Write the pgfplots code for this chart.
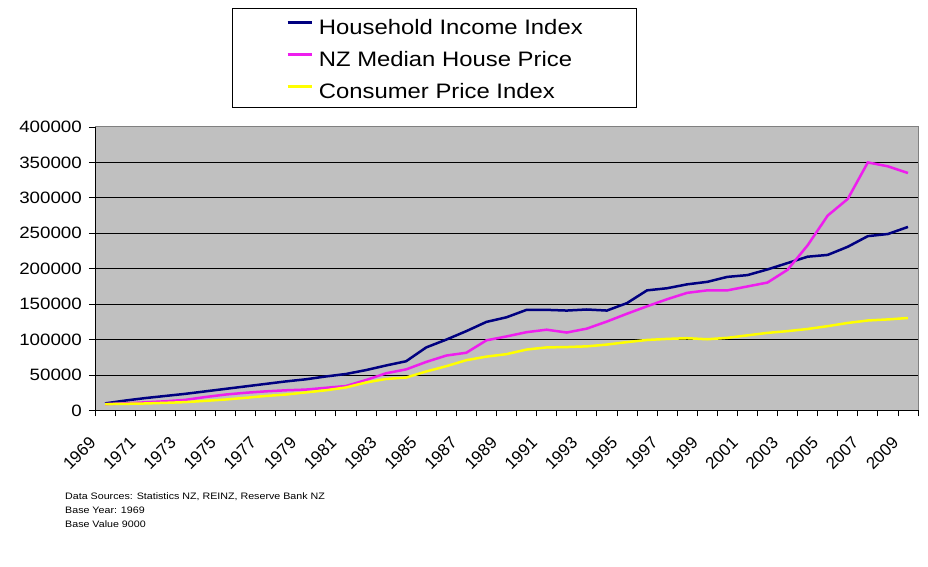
\documentclass[border=0pt]{standalone}
\usepackage{fontspec}
\setmainfont{Liberation Sans}[FakeStretch=1.14]
\newfontfamily\plainfont{Liberation Sans}
\usepackage{graphicx}
\usepackage{pgfplots}
\pgfplotsset{compat=1.18}
\usepackage{pgfplotstable}
\newcommand\yl[1]{\rotatebox{45}{#1}}
\definecolor{hhblue}{RGB}{0,0,128}
\definecolor{hpink}{RGB}{238,30,238}
\definecolor{cpiyel}{RGB}{255,255,0}
\definecolor{bgGrey}{RGB}{192,192,192}
\pgfplotstableread{
i hh house cpi
0 10000 9000 9000
1 14000 10000 9400
2 17500 11500 9900
3 20500 13000 10800
4 23500 15000 11800
5 27000 19000 13600
6 30500 22500 15500
7 34000 25000 17900
8 37500 27000 20500
9 41000 28500 22500
10 44000 29500 25500
11 48000 32000 28500
12 51500 34500 32500
13 57000 43000 39500
14 63500 52500 44500
15 69500 58000 46500
16 89000 68500 55000
17 100000 77500 62500
18 112000 81500 71000
19 125000 99000 76000
20 131500 104500 79500
21 142000 110500 86000
22 142000 114000 89000
23 141000 110000 89500
24 142500 115500 90500
25 141000 125500 93000
26 151500 136500 96500
27 169500 147000 99500
28 172500 157000 101000
29 178000 166000 102000
30 181500 169500 100500
31 188500 169500 102500
32 191000 175000 106000
33 199000 180500 109500
34 208000 198500 112000
35 217000 233000 115000
36 219500 275000 119000
37 231000 298500 123500
38 246000 350000 127000
39 249000 344500 128500
40 259000 335000 130500
}\datatable
\begin{document}
\begin{tikzpicture}[x=1bp,y=1bp]
\begin{axis}[
  at={(95bp,156.5bp)}, anchor=south west,
  scale only axis, width=823bp, height=283.5bp,
  xmin=-0.5, xmax=40.5, ymin=0, ymax=400000,
  scaled y ticks=false,
  axis x line*=bottom, axis y line*=left,
  axis line style={-, black, line width=1bp},
  axis background/.style={fill=bgGrey, draw=gray, line width=1bp},
  tick align=outside, major tick length=6bp,
  tick style={black, line width=0.8bp},
  xtick={-0.5,0.5,...,40.5}, xticklabels={},
  extra x ticks={0,2,...,40},
  extra x tick labels={\yl{1969},\yl{1971},\yl{1973},\yl{1975},\yl{1977},\yl{1979},\yl{1981},\yl{1983},\yl{1985},\yl{1987},\yl{1989},\yl{1991},\yl{1993},\yl{1995},\yl{1997},\yl{1999},\yl{2001},\yl{2003},\yl{2005},\yl{2007},\yl{2009}},
  extra x tick style={major tick length=0pt},
  xticklabel style={font=\plainfont\fontsize{17}{20}\selectfont, anchor=north east, inner sep=0pt, xshift=-8bp, yshift=-25bp},
  ytick={0,50000,...,350000},
  yticklabels={0,50000,100000,150000,200000,250000,300000,350000},
  extra y ticks={400000}, extra y tick labels={400000},
  extra y tick style={grid=none},
  yticklabel style={font=\fontsize{16.5}{20}\selectfont, inner sep=0pt, xshift=-7bp},
  ymajorgrids, grid style={black, line width=0.8bp},
  legend style={at={(rel axis cs:0.16646,1.41975)}, anchor=north west,
    draw=black, line width=0.8bp, fill=white,
    inner xsep=54bp, inner ysep=4bp, row sep=5bp, column sep=6bp,
    font=\fontsize{21}{25}\selectfont,
    nodes={inner sep=0pt, text height=22bp, text depth=5bp}},
  legend cell align=left,
  legend image code/.code={\draw[#1, line width=2.5bp] (0bp,3.5bp) -- (24bp,3.5bp);},
]
\addplot[hhblue, line width=2.5bp] table[x=i, y=hh] {\datatable};
\addlegendentry{Household Income Index}
\addplot[hpink, line width=2.5bp] table[x=i, y=house] {\datatable};
\addlegendentry{NZ Median House Price}
\addplot[cpiyel, line width=2.5bp] table[x=i, y=cpi] {\datatable};
\addlegendentry{Consumer Price Index}
\end{axis}
\begin{scope}[every node/.style={anchor=base west, inner sep=0pt, font=\fontsize{9.4}{12}\selectfont}]
\node at (65,67.5) {Data Sources: Statistics NZ, REINZ, Reserve Bank NZ};
\node at (65,53.5) {Base Year: 1969};
\node at (65,39.5) {Base Value 9000};
\end{scope}
\pgfresetboundingbox
\path[use as bounding box] (0,0) rectangle (928,567);
\end{tikzpicture}
\end{document}
